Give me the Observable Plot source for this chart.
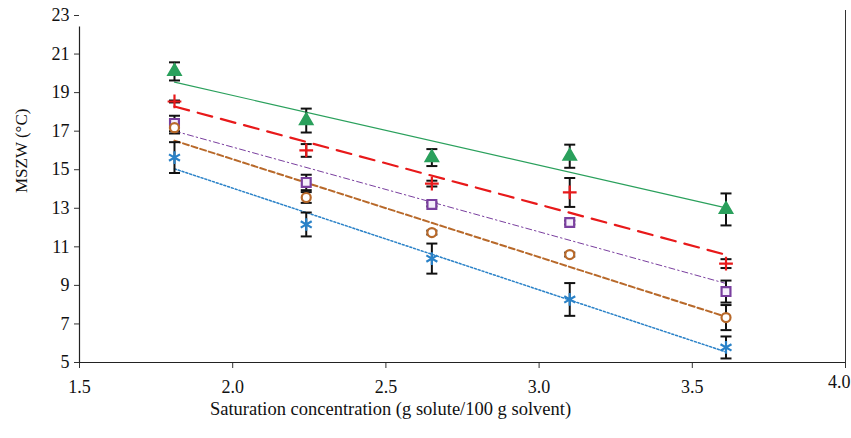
<!DOCTYPE html>
<html>
<head>
<meta charset="utf-8">
<script src="https://cdn.jsdelivr.net/npm/d3@7"></script>
<script src="https://cdn.jsdelivr.net/npm/@observablehq/plot@0.6"></script>
<style>
  html, body { margin: 0; padding: 0; background: #fff; }
  #chart svg { display: block; }
  #chart svg, #chart svg text { font-family: "Liberation Serif", "Times New Roman", Times, serif !important; }
</style>
</head>
<body>
<div id="chart"></div>
<script>
// Saturation concentration (g solute/100 g solvent)
const conc = [1.81, 2.24, 2.65, 3.10, 3.61];

// MSZW (°C) series and error bar half-widths
const greenY = [20.1, 17.55, 15.63, 15.7, 12.94];
const greenErr = [0.47, 0.62, 0.44, 0.6, 0.83];
const redY = [18.54, 16.0, 14.28, 13.82, 10.13];
const redErr = [0.05, 0.33, 0.15, 0.75, 0.23];
const purpleY = [17.4, 14.34, 13.2, 12.26, 8.68];
const purpleErr = [0.4, 0.4, 0.1, 0.1, 0.57];
const brownY = [17.18, 13.56, 11.74, 10.6, 7.33];
const brownErr = [0.3, 0.28, 0.1, 0.1, 0.65];
const blueY = [15.63, 12.16, 10.39, 8.27, 5.78];
const blueErr = [0.8, 0.62, 0.78, 0.85, 0.57];

const yTicks = [5, 7, 9, 11, 13, 15, 17, 19, 21, 23];
const xTicks = [1.5, 2.0, 2.5, 3.0, 3.5, 4.0];

const series = [
  {name: "A", y: greenY, err: greenErr, color: "#2aa05c", symbol: "triangle", fill: "#2aa05c", dash: null, width: 1.2, r: 5},
  {name: "B", y: redY, err: redErr, color: "#e8191a", symbol: "plus", fill: "none", dash: "15,9", width: 2.2, r: 4.5},
  {name: "C", y: purpleY, err: purpleErr, color: "#7a3f9f", symbol: "square", fill: "#f4eefa", dash: "6,3,1.5,3", width: 1, r: 5},
  {name: "D", y: brownY, err: brownErr, color: "#b8692a", symbol: "circle", fill: "#fff", dash: "6,3", width: 2, r: 4.5},
  {name: "E", y: blueY, err: blueErr, color: "#2a82c8", symbol: "asterisk", fill: "none", dash: "2,2", width: 1.5, r: 6}
];

const rows = series.flatMap(s => conc.map((x, i) => ({
  series: s.name, x, y: s.y[i], lo: s.y[i] - s.err[i], hi: s.y[i] + s.err[i]
})));

const capSymbol = {
  draw(context, size) {
    const w = Math.sqrt(size / Math.PI);
    context.moveTo(-w, 0);
    context.lineTo(w, 0);
  }
};

const font = "'Liberation Serif', 'Times New Roman', serif";
const fmt = d3.format(".1f");
const lastX = xTicks[xTicks.length - 1];

const marks = [];
// trend lines
for (const s of series) {
  const d = rows.filter(r => r.series === s.name);
  marks.push(Plot.linearRegressionY(d, {
    x: "x", y: "y", ci: 0, stroke: s.color, strokeWidth: s.width,
    strokeDasharray: s.dash
  }));
}
// error bars
marks.push(Plot.ruleX(rows, {x: "x", y1: "lo", y2: "hi", stroke: "#111", strokeWidth: 2}));
marks.push(Plot.dot(rows, {x: "x", y: "lo", symbol: capSymbol, r: 5.5, stroke: "#111", strokeWidth: 2, fill: "none"}));
marks.push(Plot.dot(rows, {x: "x", y: "hi", symbol: capSymbol, r: 5.5, stroke: "#111", strokeWidth: 2, fill: "none"}));
// markers
for (const s of series) {
  const d = rows.filter(r => r.series === s.name);
  marks.push(Plot.dot(d, {
    x: "x", y: "y", symbol: s.symbol, r: s.r, stroke: s.color,
    strokeWidth: s.symbol === "triangle" ? 1.5 : 2.2, fill: s.fill
  }));
}
// axes
marks.push(Plot.axisY({ticks: yTicks, tickSize: 5, tickPadding: 5, fontSize: 18, label: null, stroke: "#333"}));
marks.push(Plot.axisX({ticks: xTicks, tickSize: 6, tickPadding: 12, fontSize: 18, label: null,
  tickFormat: d => d === lastX ? "" : fmt(d), stroke: "#333"}));
marks.push(Plot.tickX([lastX], {x: d => d, y1: 5, y2: 5, insetTop: -5, stroke: "#333"}));
marks.push(Plot.text([lastX], {x: d => d, frameAnchor: "bottom", textAnchor: "end", dx: 5, dy: 25, fontSize: 18, fill: "#111", text: d => fmt(d)}));
marks.push(Plot.ruleX([1.5], {y1: 5, y2: 22.4, stroke: "#222", strokeWidth: 1.2}));
marks.push(Plot.ruleY([5], {stroke: "#222", strokeWidth: 1.2}));
marks.push(Plot.text(["MSZW (°C)"], {frameAnchor: "left", dx: -58, dy: 4, rotate: -90, fontSize: 17, fill: "#111"}));
marks.push(Plot.text(["Saturation concentration (g solute/100 g solvent)"], {frameAnchor: "bottom", dx: -72, dy: 52, fontSize: 18.5, fill: "#111"}));

const chart = Plot.plot({
  width: 851,
  height: 438,
  marginLeft: 79,
  marginRight: 6,
  marginTop: 15,
  marginBottom: 76,
  style: `font-family: ${font}; font-size: 18px; color: #111; background: #fff; overflow: visible;`,
  x: {domain: [1.5, 4.0]},
  y: {domain: [5, 23]},
  marks
});
document.getElementById("chart").appendChild(chart);
</script>
</body>
</html>
